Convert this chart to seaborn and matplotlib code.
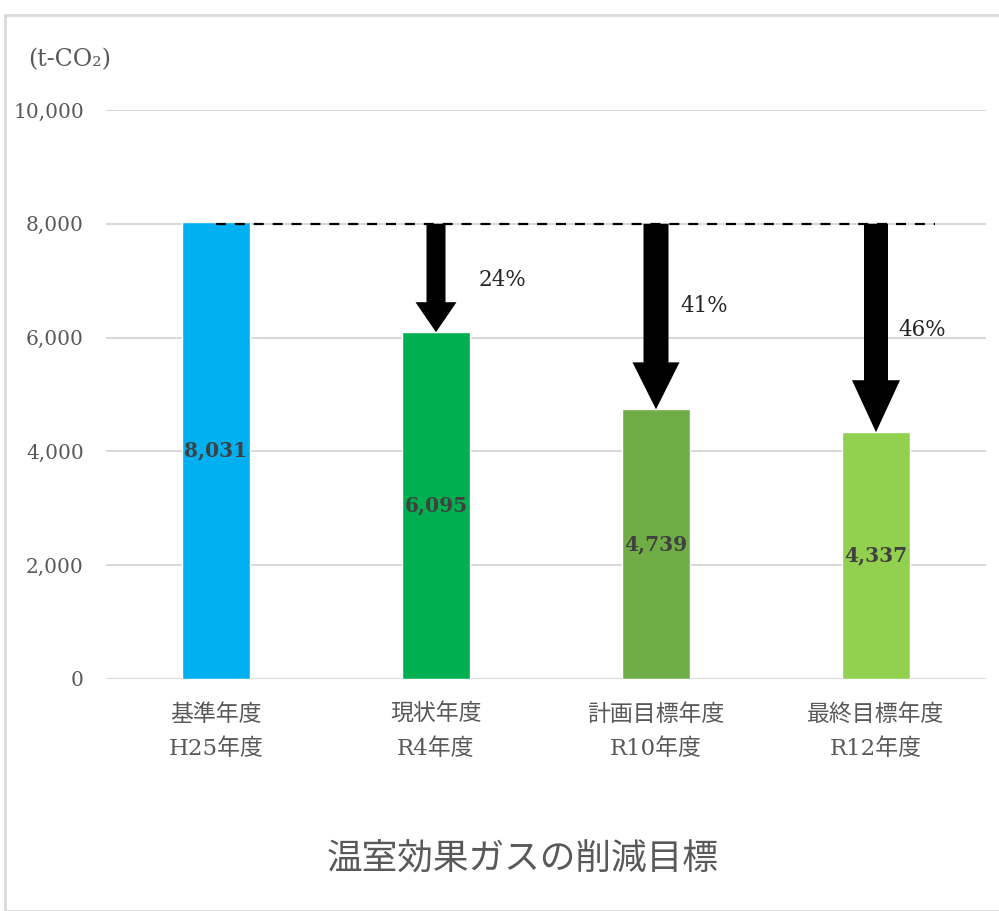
import matplotlib
matplotlib.use("Agg")
import matplotlib.pyplot as plt
import seaborn as sns
import pandas as pd
from matplotlib.patches import FancyArrow, Rectangle

categories = ["基準年度\nH25年度", "現状年度\nR4年度", "計画目標年度\nR10年度", "最終目標年度\nR12年度"]
values = [8031, 6095, 4739, 4337]
value_labels = ["8,031", "6,095", "4,739", "4,337"]
reduction_labels = ["", "24%", "41%", "46%"]
colors = ["#00B0F0", "#00B050", "#70AD47", "#92D050"]
baseline = 8000
yticks = [0, 2000, 4000, 6000, 8000, 10000]
ytick_labels = ["0", "2,000", "4,000", "6,000", "8,000", "10,000"]
title = "温室効果ガスの削減目標"
unit = "(t-CO₂)"

sns.set_theme(style="white")
plt.rcParams["font.family"] = ["Noto Sans CJK JP", "DejaVu Sans"]
SERIF = ["DejaVu Serif", "Noto Sans CJK JP"]

df = pd.DataFrame({"cat": categories, "val": values})

fig = plt.figure(figsize=(9.99, 9.11), dpi=100)
ax = fig.add_axes([106/999, 1-679/911, 880/999, (679-110)/911])

sns.barplot(data=df, x="cat", y="val", hue="cat", palette=colors, width=0.31,
            legend=False, ax=ax, saturation=1)

ax.set_ylim(0, 10000)
ax.set_xlim(-0.5, 3.5)
ax.set_yticks(yticks)
ax.set_yticklabels(ytick_labels, family=SERIF, fontsize=14.5, color="#595959")
ax.tick_params(axis="y", length=0, pad=16)
ax.tick_params(axis="x", length=0, pad=18)
ax.set_xticks(range(len(categories)))
ax.set_xticklabels(categories, fontsize=16.5, color="#595959", linespacing=1.72,
                   family=SERIF)
ax.grid(axis="y", color="#D9D9D9", linewidth=1.5)
ax.set_axisbelow(True)
for s in ax.spines.values():
    s.set_visible(False)
ax.set_xlabel("")
ax.set_ylabel("")

# value labels inside bars
for i, (v, lab) in enumerate(zip(values, value_labels)):
    ax.text(i, v/2, lab, ha="center", va="center", family=SERIF,
            fontweight="bold", fontsize=14.5, color="#404040")

# dashed baseline
ax.plot([0, 3.27], [baseline, baseline], ls=(0, (4.5, 4)), color="black", lw=1.6, zorder=3)

# arrows
px_x = 220.0  # pixels per category
px_y = 56.9 / 1000.0  # pixels per value unit
arrow_specs = [None, (19, 41, 30), (25, 47, 47), (24, 48, 52)]
for i, spec in enumerate(arrow_specs):
    if spec is None:
        continue
    shaft, head, hlen = spec
    arr = FancyArrow(i, baseline, 0, values[i]-baseline, width=shaft/px_x,
                     head_width=head/px_x, head_length=hlen/px_y,
                     length_includes_head=True, color="black", zorder=4, lw=0)
    ax.add_patch(arr)

# percent labels
label_pos = [None, (0.3, 7010), (0.22, 6555), (0.21, 6135)]
for i, lab in enumerate(reduction_labels):
    if not lab:
        continue
    dx, y = label_pos[i]
    ax.text(i + dx, y, lab, ha="center", va="center", family=SERIF,
            fontsize=15.5, color="#262626")

fig.text(28/999, 1-60/911, unit, ha="left", va="center", fontsize=17,
         family=SERIF, color="#595959")
fig.text(523/999, 1-860/911, title, ha="center", va="center", fontsize=25.7, color="#595959")

fig.patches.append(Rectangle((5/999, 0), 1, 1-15/911, transform=fig.transFigure,
                             fill=False, edgecolor="#D9D9D9", lw=2))

fig.savefig("out.png", dpi=100)
